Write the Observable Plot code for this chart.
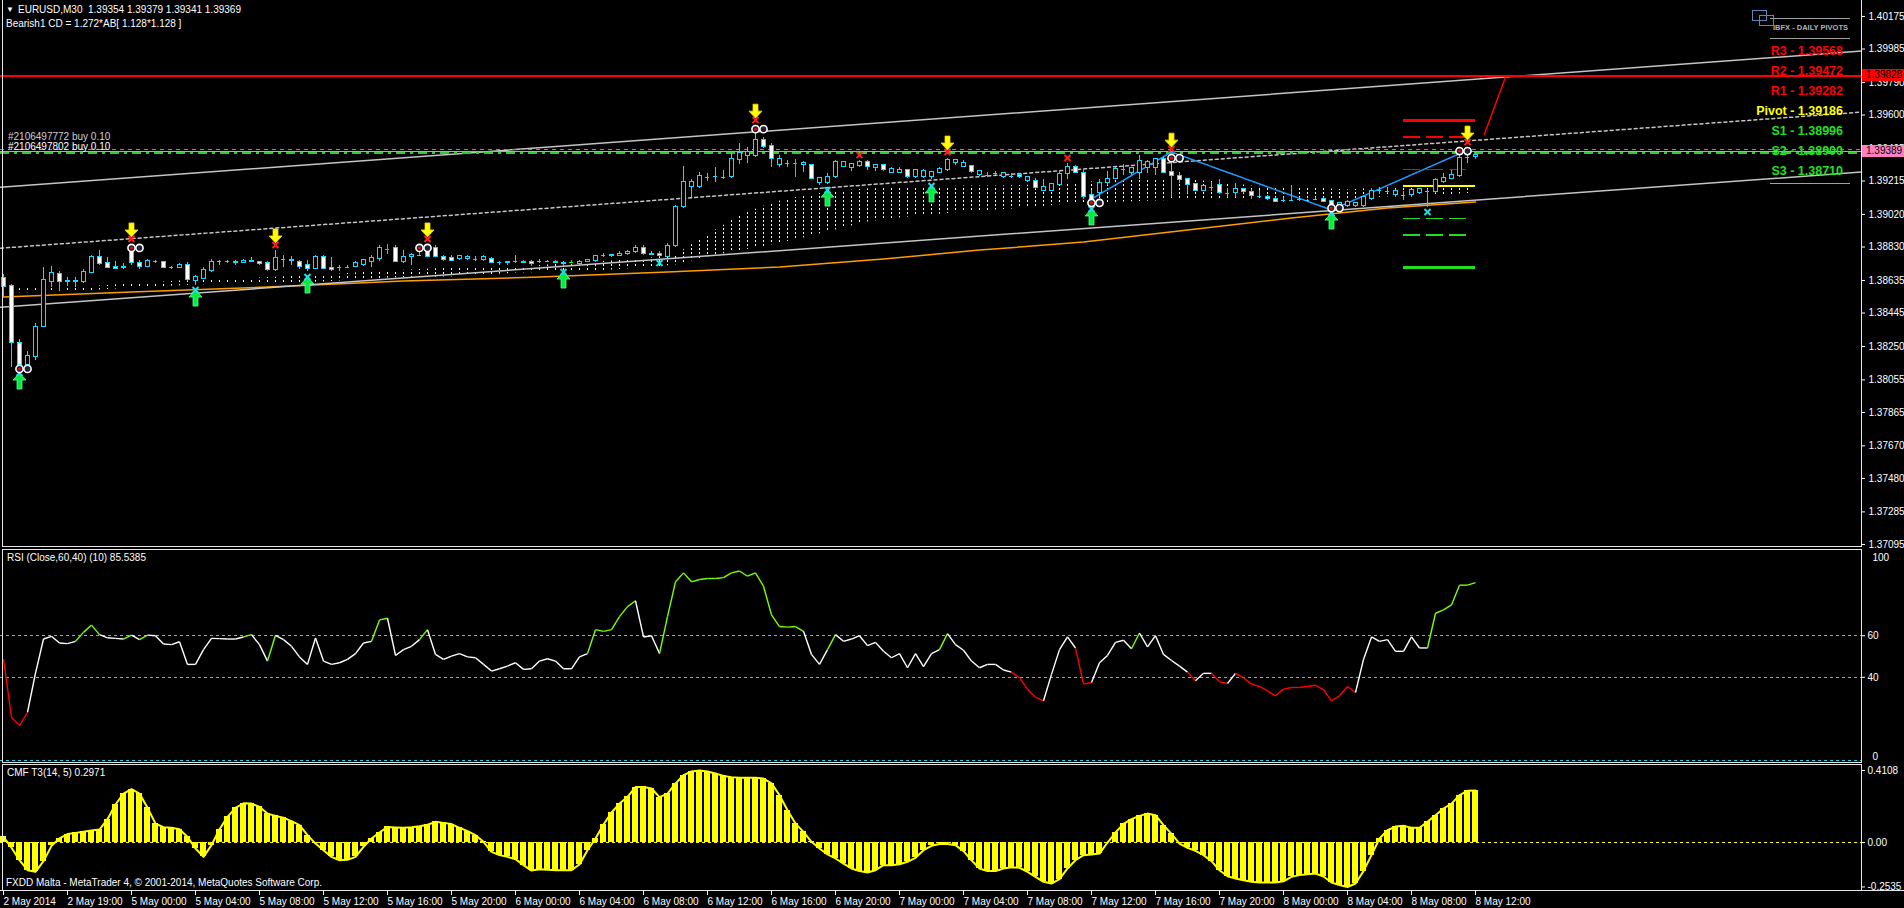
<!DOCTYPE html>
<html><head><meta charset="utf-8">
<script src="https://cdn.jsdelivr.net/npm/d3@7"></script>
<script src="https://cdn.jsdelivr.net/npm/@observablehq/plot@0.6"></script>
<style>
html,body{margin:0;padding:0;background:#000;overflow:hidden;}
#root{position:relative;width:1904px;height:908px;background:#000;font-family:"Liberation Sans",Arial,sans-serif;color:#fff;overflow:hidden;}
#root svg{position:absolute;left:0;overflow:visible;}
#root svg rect,#root svg line{shape-rendering:crispEdges;}
.t{position:absolute;white-space:pre;font-size:10px;line-height:12px;color:#fff;}
.ln{position:absolute;background:#e8e8e8;}
</style></head><body><div id="root"></div>
<svg width="0" height="0" style="position:absolute"><defs><pattern id="vdots" patternUnits="userSpaceOnUse" x="0" y="0" width="8" height="4"><rect x="3" y="0" width="1" height="2" fill="#ffffff" shape-rendering="crispEdges"/></pattern></defs></svg>
<script>
// ---------------- DATA ----------------
const open = [
1.38649,1.38603,1.38270,1.38142,1.38189,1.38364,1.38626,1.38673,1.38626,1.38632,
1.38626,1.38678,1.38772,1.38737,1.38713,1.38708,1.38830,1.38737,1.38713,1.38743,
1.38743,1.38708,1.38708,1.38725,1.38632,1.38643,1.38690,1.38743,1.38743,1.38743,
1.38737,1.38748,1.38743,1.38737,1.38696,1.38760,1.38754,1.38743,1.38725,1.38702,
1.38772,1.38708,1.38708,1.38713,1.38713,1.38725,1.38743,1.38760,1.38818,1.38824,
1.38743,1.38772,1.38778,1.38824,1.38824,1.38772,1.38766,1.38760,1.38760,1.38760,
1.38754,1.38760,1.38737,1.38737,1.38743,1.38743,1.38743,1.38743,1.38743,1.38743,
1.38737,1.38737,1.38731,1.38743,1.38748,1.38778,1.38778,1.38778,1.38789,1.38801,
1.38824,1.38789,1.38789,1.38772,1.38836,1.39063,1.39180,1.39180,1.39238,1.39244,
1.39238,1.39238,1.39337,1.39361,1.39361,1.39454,1.39419,1.39308,1.39320,1.39320,
1.39308,1.39308,1.39203,1.39203,1.39238,1.39296,1.39291,1.39302,1.39326,1.39291,
1.39308,1.39261,1.39261,1.39279,1.39238,1.39238,1.39238,1.39261,1.39279,1.39320,
1.39296,1.39302,1.39250,1.39250,1.39261,1.39238,1.39244,1.39250,1.39215,1.39215,
1.39156,1.39156,1.39191,1.39256,1.39296,1.39261,1.39133,1.39145,1.39203,1.39226,
1.39285,1.39261,1.39261,1.39291,1.39291,1.39343,1.39267,1.39244,1.39226,1.39197,
1.39156,1.39180,1.39191,1.39145,1.39145,1.39168,1.39151,1.39127,1.39121,1.39110,
1.39104,1.39104,1.39110,1.39104,1.39110,1.39110,1.39098,1.39063,1.39069,1.39069,
1.39069,1.39110,1.39162,1.39156,1.39133,1.39133,1.39133,1.39145,1.39156,1.39151,
1.39209,1.39226,1.39244,1.39355,1.39354];
const high = [
1.38667,1.38614,1.38288,1.38218,1.38381,1.38708,1.38719,1.38690,1.38655,1.38655,
1.38696,1.38783,1.38807,1.38766,1.38743,1.38731,1.38842,1.38754,1.38760,1.38754,
1.38748,1.38719,1.38731,1.38737,1.38661,1.38708,1.38760,1.38754,1.38754,1.38754,
1.38760,1.38766,1.38748,1.38743,1.38807,1.38778,1.38772,1.38754,1.38754,1.38778,
1.38778,1.38766,1.38725,1.38725,1.38743,1.38760,1.38778,1.38836,1.38842,1.38836,
1.38807,1.38795,1.38812,1.38842,1.38836,1.38783,1.38778,1.38783,1.38778,1.38772,
1.38778,1.38766,1.38748,1.38748,1.38778,1.38754,1.38754,1.38760,1.38754,1.38754,
1.38748,1.38754,1.38754,1.38760,1.38783,1.38795,1.38789,1.38801,1.38812,1.38836,
1.38836,1.38801,1.38801,1.38853,1.39075,1.39302,1.39226,1.39267,1.39261,1.39291,
1.39279,1.39378,1.39436,1.39413,1.39535,1.39471,1.39436,1.39361,1.39337,1.39343,
1.39331,1.39314,1.39238,1.39256,1.39337,1.39331,1.39314,1.39337,1.39337,1.39308,
1.39314,1.39291,1.39291,1.39285,1.39279,1.39285,1.39273,1.39291,1.39349,1.39343,
1.39337,1.39308,1.39279,1.39267,1.39273,1.39267,1.39256,1.39256,1.39244,1.39232,
1.39226,1.39203,1.39279,1.39320,1.39308,1.39279,1.39162,1.39221,1.39273,1.39291,
1.39314,1.39291,1.39366,1.39337,1.39349,1.39355,1.39366,1.39267,1.39232,1.39203,
1.39191,1.39209,1.39226,1.39174,1.39203,1.39174,1.39168,1.39162,1.39133,1.39121,
1.39121,1.39186,1.39121,1.39110,1.39121,1.39116,1.39104,1.39092,1.39104,1.39092,
1.39127,1.39174,1.39180,1.39180,1.39168,1.39151,1.39168,1.39174,1.39168,1.39232,
1.39261,1.39279,1.39366,1.39407,1.39379];
const low = [
1.38538,1.38130,1.38130,1.38119,1.38171,1.38358,1.38591,1.38573,1.38597,1.38591,
1.38620,1.38678,1.38725,1.38708,1.38696,1.38696,1.38725,1.38696,1.38708,1.38731,
1.38702,1.38696,1.38702,1.38626,1.38614,1.38638,1.38684,1.38725,1.38731,1.38725,
1.38731,1.38737,1.38725,1.38690,1.38690,1.38713,1.38725,1.38696,1.38690,1.38696,
1.38696,1.38690,1.38690,1.38702,1.38708,1.38719,1.38713,1.38743,1.38789,1.38737,
1.38731,1.38725,1.38772,1.38766,1.38766,1.38748,1.38743,1.38754,1.38754,1.38748,
1.38748,1.38731,1.38725,1.38725,1.38731,1.38731,1.38725,1.38731,1.38737,1.38731,
1.38719,1.38731,1.38725,1.38737,1.38743,1.38766,1.38766,1.38772,1.38783,1.38795,
1.38778,1.38778,1.38766,1.38766,1.38830,1.39057,1.39116,1.39174,1.39215,1.39209,
1.39221,1.39232,1.39314,1.39320,1.39355,1.39407,1.39296,1.39291,1.39291,1.39238,
1.39267,1.39221,1.39191,1.39197,1.39232,1.39291,1.39273,1.39296,1.39279,1.39273,
1.39273,1.39256,1.39256,1.39232,1.39232,1.39232,1.39221,1.39261,1.39273,1.39308,
1.39296,1.39261,1.39244,1.39238,1.39250,1.39232,1.39232,1.39232,1.39209,1.39168,
1.39151,1.39151,1.39186,1.39221,1.39256,1.39110,1.39087,1.39121,1.39186,1.39221,
1.39250,1.39250,1.39221,1.39261,1.39250,1.39256,1.39121,1.39203,1.39145,1.39151,
1.39151,1.39151,1.39139,1.39116,1.39121,1.39145,1.39110,1.39116,1.39104,1.39087,
1.39087,1.39098,1.39098,1.39092,1.39104,1.39087,1.39063,1.39057,1.39063,1.39063,
1.39063,1.39104,1.39139,1.39145,1.39121,1.39104,1.39116,1.39139,1.39063,1.39145,
1.39203,1.39221,1.39238,1.39320,1.39341];
const close = [
1.38597,1.38270,1.38142,1.38195,1.38364,1.38638,1.38678,1.38626,1.38632,1.38626,
1.38684,1.38772,1.38731,1.38708,1.38702,1.38713,1.38737,1.38713,1.38748,1.38743,
1.38708,1.38708,1.38725,1.38638,1.38655,1.38696,1.38743,1.38743,1.38743,1.38737,
1.38748,1.38743,1.38731,1.38696,1.38766,1.38760,1.38748,1.38713,1.38702,1.38772,
1.38702,1.38696,1.38708,1.38713,1.38737,1.38754,1.38766,1.38824,1.38818,1.38743,
1.38772,1.38783,1.38778,1.38772,1.38772,1.38754,1.38748,1.38778,1.38772,1.38760,
1.38772,1.38737,1.38737,1.38743,1.38743,1.38737,1.38731,1.38743,1.38743,1.38737,
1.38731,1.38737,1.38743,1.38754,1.38778,1.38778,1.38783,1.38789,1.38801,1.38824,
1.38789,1.38783,1.38778,1.38836,1.39063,1.39209,1.39209,1.39244,1.39238,1.39244,
1.39238,1.39343,1.39378,1.39384,1.39454,1.39413,1.39343,1.39343,1.39320,1.39320,
1.39320,1.39226,1.39232,1.39238,1.39326,1.39326,1.39314,1.39326,1.39296,1.39308,
1.39279,1.39285,1.39279,1.39238,1.39279,1.39273,1.39267,1.39285,1.39337,1.39337,
1.39320,1.39267,1.39273,1.39250,1.39261,1.39261,1.39244,1.39238,1.39238,1.39174,
1.39180,1.39197,1.39256,1.39296,1.39261,1.39121,1.39104,1.39203,1.39226,1.39285,
1.39285,1.39291,1.39331,1.39326,1.39343,1.39261,1.39244,1.39221,1.39191,1.39156,
1.39186,1.39180,1.39145,1.39145,1.39168,1.39151,1.39127,1.39127,1.39110,1.39092,
1.39104,1.39104,1.39110,1.39104,1.39110,1.39092,1.39069,1.39087,1.39092,1.39087,
1.39121,1.39156,1.39162,1.39156,1.39156,1.39133,1.39162,1.39168,1.39156,1.39221,
1.39232,1.39250,1.39349,1.39355,1.39369];
const dojiGreen = [48, 71, 99];

const rsi = [
48.6,20.8,16.8,23.2,42,58.4,59.7,56.5,56.2,57.3,
61.6,65.1,60.5,59,58.7,58.4,60.3,58.1,60.3,60,
56,55.7,57.1,46.2,46.2,53.3,58.7,58.6,58.4,58.4,
59.4,60.5,55.7,47.8,60.2,58.1,54.9,49.8,46.2,58.9,
47.8,46.2,47,48.6,51.4,56.5,57.3,67.6,68.4,50.5,
53.3,54.9,58.1,62.9,51,48.6,50.2,51.4,49.8,49.4,
46.2,43,44.1,45.4,47,43.8,44.1,47.8,48.9,47.8,
44.1,44.1,49.8,51.4,62.9,62.1,62.9,69.2,74,76.8,
59.4,60,51.4,69.2,85.9,90.2,85.9,87,87.5,87.5,
87.9,90.2,91.1,88.6,90.2,83.8,70,64.4,64.1,64.4,
62.1,51,46.2,53.3,60.5,57.3,58.4,60,55.2,56.8,
52.5,49.4,51.4,44.6,51.4,45.1,51.4,53.3,61,55.7,
53,47.8,44.6,46.2,46.2,43.5,42.5,39.8,34.3,30.3,
28.7,41.4,53.3,59.4,54.1,36.7,37.5,47,50.5,56.8,
57.8,53.7,61.3,54.6,60,51,48.1,45.4,42.5,38.3,
41.9,41.9,37.8,37,41.9,39.8,36.7,35.6,33.5,31.1,
34.3,35.1,35.1,35.6,36.2,34,28.7,31.1,35.6,32.7,
48.6,59.4,57.3,58.1,52.5,52.5,59.4,54.1,54.1,70.8,
72.4,74.8,84.3,84.3,85.5385];
const rsiLevels = [60, 40, 0];

const cmf = [
0.032,-0.030,-0.101,-0.158,-0.167,-0.106,-0.019,0.023,0.048,0.055,
0.061,0.068,0.074,0.133,0.217,0.279,0.304,0.279,0.198,0.108,
0.087,0.084,0.076,0.032,-0.034,-0.082,-0.015,0.076,0.146,0.198,
0.224,0.222,0.203,0.165,0.152,0.141,0.122,0.099,0.042,-0.006,
-0.044,-0.082,-0.101,-0.099,-0.082,-0.025,0.023,0.057,0.089,0.086,
0.084,0.087,0.093,0.101,0.118,0.112,0.105,0.084,0.065,0.042,
0.004,-0.053,-0.072,-0.082,-0.095,-0.129,-0.160,-0.152,-0.156,-0.158,
-0.158,-0.158,-0.125,-0.044,0.023,0.103,0.171,0.222,0.260,0.316,
0.317,0.308,0.259,0.279,0.337,0.384,0.405,0.4108,0.405,0.394,
0.380,0.373,0.369,0.369,0.369,0.365,0.337,0.270,0.184,0.108,
0.061,0.004,-0.034,-0.068,-0.091,-0.120,-0.148,-0.163,-0.171,-0.158,
-0.129,-0.129,-0.124,-0.110,-0.087,-0.044,-0.019,-0.008,-0.008,-0.015,
-0.049,-0.101,-0.148,-0.163,-0.163,-0.148,-0.141,-0.144,-0.167,-0.196,
-0.224,-0.234,-0.209,-0.148,-0.101,-0.072,-0.068,-0.063,0.000,0.057,
0.106,0.133,0.152,0.165,0.156,0.099,0.049,-0.006,-0.030,-0.048,
-0.072,-0.106,-0.158,-0.192,-0.205,-0.215,-0.224,-0.228,-0.228,-0.228,
-0.221,-0.196,-0.186,-0.181,-0.177,-0.194,-0.228,-0.243,-0.2535,-0.234,
-0.163,-0.072,0.023,0.070,0.091,0.095,0.084,0.084,0.118,0.156,
0.194,0.222,0.270,0.295,0.2971];
const cmfTicks = [0.4108, 0, -0.2535];

const priceTicks = [1.40175,1.39985,1.39790,1.39600,1.39405,1.39215,1.39020,1.38830,1.38635,1.38445,1.38250,1.38055,1.37865,1.37670,1.37480,1.37285,1.37095];
const timeIdx = [0,8,16,24,32,40,48,56,64,72,80,88,96,104,112,120,128,136,144,152,160,168,176,184];
const timeLabels = ["2 May 2014","2 May 19:00","5 May 00:00","5 May 04:00","5 May 08:00","5 May 12:00","5 May 16:00","5 May 20:00","6 May 00:00","6 May 04:00","6 May 08:00","6 May 12:00","6 May 16:00","6 May 20:00","7 May 00:00","7 May 04:00","7 May 08:00","7 May 12:00","7 May 16:00","7 May 20:00","8 May 00:00","8 May 04:00","8 May 08:00","8 May 12:00"];

const maIdx = [0,16,33,50,67,83,97,110,122,135,148,161,173,184];
const maVal = [1.38538,1.38568,1.38597,1.38632,1.38655,1.38684,1.38713,1.38760,1.38812,1.38859,1.38929,1.38999,1.39057,1.39092];

const cloudIdx = [0,8,16,24,32,40,48,56,64,72,80,84,88,92,96,100,104,108,112,116,120,124,128,132,136,140,144,148,152,156,160,164,168,172,176,180,184];
const cloudTop = [1.38585,1.38591,1.38614,1.38638,1.38649,1.38667,1.38690,1.38708,1.38713,1.38737,1.38760,1.38783,1.38900,1.39011,1.39087,1.39127,1.39156,1.39168,1.39174,1.39180,1.39186,1.39186,1.39191,1.39203,1.39209,1.39221,1.39221,1.39221,1.39209,1.39186,1.39180,1.39174,1.39162,1.39174,1.39180,1.39180,1.39180];
const cloudBot = [1.38562,1.38568,1.38591,1.38609,1.38620,1.38626,1.38649,1.38655,1.38678,1.38684,1.38708,1.38725,1.38772,1.38807,1.38842,1.38882,1.38929,1.38976,1.38999,1.39017,1.39034,1.39046,1.39057,1.39075,1.39087,1.39092,1.39098,1.39104,1.39104,1.39110,1.39104,1.39104,1.39110,1.39121,1.39127,1.39133,1.39145];

const channelIdx = [-0.375, 232.25];
const channelUpper = [1.39179, 1.39973];
const channelMid = [1.38823, 1.39617];
const channelLower = [1.38479, 1.39267];

const pivotNames = ["R3","R2","R1","Pivot","S1","S2","S3"];
const pivotValues = [1.39568,1.39472,1.39282,1.39186,1.38996,1.38900,1.38710];
const pivotFrom = 175, pivotTo = 184;

const alertPrice = 1.39828;
const bidPrice = 1.39389;
const orderPrices = [1.39400, 1.39377];
const orderLabels = ["#2106497772 buy 0.10", "#2106497802 buy 0.10"];

const zzIdx = [136, 146, 166, 183];
const zzPrice = [1.39110, 1.39384, 1.39046, 1.39395];
const projIdx = [185.1, 187.8];
const projPrice = [1.39486, 1.39828];

const sellIdx = [16, 34, 53, 94, 118, 146, 183];
const buyIdx = [2, 24, 38, 70, 103, 116, 136, 166];
const ooTopIdx = [16, 52, 94, 146, 182];
const ooBotIdx = [2, 136, 166];
const cyanXIdx = [82, 178];
const redXIdx = [107, 133];

// ---------------- DRAW ----------------
const root = document.getElementById("root");
const FONT = '"Liberation Sans", Arial, sans-serif';
const W = 1904, MR = 43, AXX = 1861;
const xDomain = [-0.375, 232.25];
const CY = "#1cd8ff", LIME = "#00ff00", GREENL = "#2ecc2e";

function place(svg, top){ svg.style.top = top + "px"; root.appendChild(svg); }
function txt(s, x, yc, o = {}) {
  const d = document.createElement("div"); d.className = "t"; d.textContent = s;
  const lh = o.lh || 12; d.style.lineHeight = lh + "px"; d.style.top = (yc - lh/2) + "px";
  if (o.right != null) d.style.right = o.right + "px"; else d.style.left = x + "px";
  if (o.size) d.style.fontSize = o.size + "px";
  if (o.color) d.style.color = o.color;
  if (o.bold) d.style.fontWeight = "bold";
  if (o.bg) d.style.background = o.bg;
  if (o.w) d.style.width = o.w + "px";
  if (o.pad) d.style.paddingLeft = o.pad + "px";
  root.appendChild(d); return d;
}
function rectDiv(x, y, w, h, bg, extra = {}) {
  const d = document.createElement("div"); d.className = "ln";
  Object.assign(d.style, {left: x + "px", top: y + "px", width: w + "px", height: h + "px", background: bg}, extra);
  root.appendChild(d); return d;
}

const bars = open.map((o, i) => ({i, o, h: high[i], l: low[i], c: close[i]}));
const greenSet = new Set(dojiGreen);
const wickCol = d => greenSet.has(d.i) ? LIME : CY;
const isFlat = d => d.o === d.c;

const arrowDown = {draw(c){c.moveTo(-2.5,-8);c.lineTo(2.5,-8);c.lineTo(2.5,-1);c.lineTo(6.5,-1);c.lineTo(0,6);c.lineTo(-6.5,-1);c.lineTo(-2.5,-1);c.closePath();}};
const arrowUp = {draw(c){c.moveTo(0,-8);c.lineTo(6.5,-1);c.lineTo(2.5,-1);c.lineTo(2.5,8);c.lineTo(-2.5,8);c.lineTo(-2.5,-1);c.lineTo(-6.5,-1);c.closePath();}};
const xMark = {draw(c){c.moveTo(-3,-3);c.lineTo(3,3);c.moveTo(3,-3);c.lineTo(-3,3);}};

const sellPts = sellIdx.map(i => ({i, y: high[i]}));
const buyPts = buyIdx.map(i => ({i, y: low[i]}));
const ooTop = ooTopIdx.flatMap(i => { const y = Math.max(high[i], high[i+1]); return [{i, y, left: true}, {i: i+1, y}]; });
const ooBot = ooBotIdx.flatMap(i => { const y = Math.min(low[i], low[i+1]); return [{i, y, left: true}, {i: i+1, y}]; });

const pivStyle = {
  R3: {color: "#ff0000", w: 2.5, dash: null}, R2: {color: "#ff0000", w: 1.5, dash: "17,6"},
  R1: {color: "#ff0000", w: 1, dash: "17,6"}, Pivot: {color: "#ffff00", w: 2.5, dash: null},
  S1: {color: "#22dd22", w: 1.5, dash: "17,6"}, S2: {color: "#22dd22", w: 1.5, dash: "17,6"},
  S3: {color: "#22dd22", w: 2.5, dash: null}
};
const pivots = pivotNames.map((n, k) => ({n, v: pivotValues[k], ...pivStyle[n]}));
const pivotMarks = pivots.map(p => Plot.ruleY([p.v], {x1: pivotFrom, x2: p.dash ? pivotTo - 0.9 : pivotTo, stroke: p.color, strokeWidth: p.w, strokeDasharray: p.dash || undefined}));

const cloudData = cloudIdx.map((i, k) => ({i, top: cloudTop[k], bot: cloudBot[k]}));

const main = Plot.plot({
  width: W, height: 547, marginLeft: 0, marginRight: MR, marginTop: 0, marginBottom: 0,
  x: {domain: xDomain, axis: null},
  y: {domain: [1.370773, 1.40268], axis: null},
  color: {type: "identity"},
  style: {background: "transparent", color: "#fff", fontFamily: FONT, fontSize: "10px"},
  marks: [
    Plot.areaY(cloudData, {x: "i", y1: "bot", y2: "top", fill: "url(#vdots)"}),
    Plot.line(maIdx, {x: d => d, y: (d, k) => maVal[k], stroke: "#ff9d00", strokeWidth: 1.5}),
    Plot.line(channelIdx, {x: d => d, y: (d, k) => channelUpper[k], stroke: "#c4c4c4"}),
    Plot.line(channelIdx, {x: d => d, y: (d, k) => channelLower[k], stroke: "#c4c4c4"}),
    Plot.line(channelIdx, {x: d => d, y: (d, k) => channelMid[k], stroke: "#c4c4c4", strokeDasharray: "3,3"}),
    Plot.ruleY([alertPrice], {stroke: "#ff0000", strokeWidth: 1.2}),
    Plot.ruleY([orderPrices[0]], {stroke: GREENL, strokeDasharray: "4,4"}),
    Plot.ruleY([orderPrices[1]], {stroke: GREENL, strokeWidth: 2.5, strokeDasharray: "9,5,3,5"}),
    Plot.ruleY([bidPrice], {stroke: "#ff80c0"}),
    ...pivotMarks,
    Plot.line(zzIdx, {x: d => d, y: (d, k) => zzPrice[k], stroke: "#1e9cff", strokeDasharray: "2,1"}),
    Plot.line(projIdx, {x: d => d, y: (d, k) => projPrice[k], stroke: "#ff0000"}),
    Plot.ruleX(bars, {x: "i", y1: "l", y2: "h", stroke: wickCol}),
    Plot.rect(bars.filter(d => !isFlat(d)), {x1: d => d.i - 0.25, x2: d => d.i + 0.25, y1: "o", y2: "c", fill: d => d.c > d.o ? "#000" : "#fff", stroke: CY}),
    Plot.ruleY(bars.filter(isFlat), {x1: d => d.i - 0.3, x2: d => d.i + 0.3, y: "o", stroke: wickCol}),
    Plot.dot(redXIdx.map(i => ({i, y: high[i]})), {x: "i", y: "y", dy: -5, symbol: xMark, stroke: "#ff2020", strokeWidth: 2, fill: "none"}),
    Plot.dot(cyanXIdx.map(i => ({i, y: low[i]})), {x: "i", y: "y", dy: 5, symbol: xMark, stroke: "#20e0e0", strokeWidth: 2, fill: "none"}),
    Plot.dot(buyPts, {x: "i", y: "y", dy: 14, symbol: arrowUp, fill: "#00ee44", stroke: "#66ff88", strokeWidth: 0.8}),
    Plot.dot(buyPts, {x: "i", y: "y", dy: 6, symbol: xMark, stroke: "#20e0e0", strokeWidth: 2, fill: "none"}),
    Plot.dot(ooTop, {x: "i", y: "y", dy: 3, r: 3.6, stroke: "#fff", strokeWidth: 1.6, fill: "#223"}),
    Plot.dot(ooTop.filter(d => d.left), {x: "i", y: "y", dy: 3, r: 1.4, fill: "#ff0000"}),
    Plot.dot(ooBot, {x: "i", y: "y", r: 3.6, stroke: "#fff", strokeWidth: 1.6, fill: "#223"}),
    Plot.dot(ooBot.filter(d => d.left), {x: "i", y: "y", r: 1.4, fill: "#ff0000"}),
    Plot.dot(sellPts, {x: "i", y: "y", dy: -14, symbol: arrowDown, fill: "#ffff00", stroke: "#ffd000", strokeWidth: 0.8}),
    Plot.dot(sellPts, {x: "i", y: "y", dy: -6, symbol: xMark, stroke: "#ff2020", strokeWidth: 2, fill: "none"}),
    Plot.axisY(priceTicks, {anchor: "right", tickSize: 3, tickPadding: 4, tickFormat: d => d.toFixed(5), label: null})
  ]
});
place(main, 0);

// RSI panel
const rsiSeg = d3.range(rsi.length - 1).map(k => ({x1: k, x2: k + 1, y1: rsi[k], y2: rsi[k + 1],
  col: rsi[k + 1] > 60 ? "#7cff00" : rsi[k + 1] < 40 ? "#ff0000" : "#ffffff"}));
const rsiPlot = Plot.plot({
  width: W, height: 214, marginLeft: 0, marginRight: MR, marginTop: 3, marginBottom: 3,
  x: {domain: xDomain, axis: null}, y: {domain: [0, 100], axis: null}, color: {type: "identity"},
  style: {background: "transparent", color: "#fff", fontFamily: FONT, fontSize: "10px"},
  marks: [
    Plot.ruleY(rsiLevels, {stroke: "#1ed6e6", strokeDasharray: "3,3"}),
    Plot.link(rsiSeg, {x1: "x1", x2: "x2", y1: "y1", y2: "y2", stroke: "col", strokeWidth: 1.4}),
    Plot.axisY([60, 40], {anchor: "right", tickSize: 3, tickPadding: 3, label: null}),
    Plot.text([100], {y: d => d, frameAnchor: "right", dx: 11, dy: 5, textAnchor: "start", fill: "#fff"}),
    Plot.text([0], {y: d => d, frameAnchor: "right", dx: 11, dy: -4, textAnchor: "start", fill: "#fff"})
  ]
});
place(rsiPlot, 549);

// CMF panel + time axis
const cmfData = cmf.map((v, i) => ({i, v}));
const cmfPlot = Plot.plot({
  width: W, height: 145, marginLeft: 0, marginRight: MR, marginTop: 0, marginBottom: 17,
  x: {domain: xDomain, axis: null}, y: {domain: [-0.2794, 0.4507], axis: null}, color: {type: "identity"},
  style: {background: "transparent", color: "#fff", fontFamily: FONT, fontSize: "10px"},
  marks: [
    Plot.rectY(cmfData, {x1: d => d.i - 0.4, x2: d => d.i + 0.4, y: "v", fill: "#ffff00"}),
    Plot.line(cmfData, {x: "i", y: "v", stroke: "#ffff00", strokeWidth: 2}),
    Plot.ruleY([0], {stroke: "#ffff00", strokeDasharray: "3,3"}),
    Plot.axisY(cmfTicks, {anchor: "right", tickSize: 3, tickPadding: 3, label: null,
      tickFormat: d => d === 0 ? "0.00" : String(d)}),
    Plot.axisX(timeIdx, {anchor: "bottom", tickSize: 4, tickPadding: 2, label: null, textAnchor: "start", dx: 0,
      tickFormat: d => timeLabels[timeIdx.indexOf(d)]})
  ]
});
place(cmfPlot, 763);

// frames
const LC = "#e6e6e6";
rectDiv(2, 0, 1, 547, LC); rectDiv(AXX, 0, 1, 547, LC); rectDiv(2, 546, AXX - 1, 1, LC);
rectDiv(2, 549, AXX - 1, 1, LC); rectDiv(2, 549, 1, 214, LC); rectDiv(AXX, 549, 1, 214, LC); rectDiv(2, 762, AXX - 1, 1, LC);
rectDiv(2, 764, AXX - 1, 1, LC); rectDiv(2, 764, 1, 127, LC); rectDiv(AXX, 764, 1, 127, LC); rectDiv(0, 890, W, 1, LC);

// price-line value boxes on the axis
const ys = main.scale("y");
txt(alertPrice.toFixed(5), 1862, ys.apply(alertPrice), {bg: "#ff0000", color: "#000", w: 38, pad: 4, lh: 12});
txt(bidPrice.toFixed(5), 1862, ys.apply(bidPrice), {bg: "#ff80c0", color: "#000", w: 38, pad: 4, lh: 12});

// header texts
txt("\u25BC", 6, 10, {size: 8});
txt(`EURUSD,M30  ${open[184].toFixed(5)} ${high[184].toFixed(5)} ${low[184].toFixed(5)} ${close[184].toFixed(5)}`, 18, 10);
txt("Bearish1 CD = 1.272*AB[ 1.128*1.128 ]", 6, 24);
txt(orderLabels[0], 8, ys.apply(orderPrices[0]) - 12, {color: "#cfcfcf", lh: 10});
txt(orderLabels[1], 8, ys.apply(orderPrices[1]) - 6, {lh: 10});

// daily pivot panel labels
txt("IBFX - DAILY PIVOTS", 0, 28, {right: 1904 - 1848, size: 7.5, color: "#b0b0b0", bold: true});
rectDiv(1770, 18, 80, 1, "#a0a0a0"); rectDiv(1770, 38, 80, 1, "#a0a0a0"); rectDiv(1770, 183, 80, 1, "#a0a0a0");
rectDiv(1752, 10, 13, 9, "transparent", {border: "1px solid #5f86b8"});
rectDiv(1759, 15, 13, 9, "transparent", {border: "1px solid #5f86b8"});
pivots.forEach((p, k) => txt(`${p.n} - ${p.v.toFixed(5)}`, 0, 50.7 + 20 * k, {right: 1904 - 1843, size: 12.5, bold: true, color: p.n === "Pivot" ? "#ffff00" : p.color === "#ff0000" ? "#ff0000" : "#22e022", lh: 14}));

// panel titles
txt(`RSI (Close,60,40) (10) ${rsi[rsi.length - 1].toFixed(4)}`, 7, 558);
txt(`CMF T3(14, 5) ${cmf[cmf.length - 1].toFixed(4)}`, 7, 773);
txt("FXDD Malta - MetaTrader 4, \u00A9 2001-2014, MetaQuotes Software Corp.", 6, 883);
</script></body></html>
